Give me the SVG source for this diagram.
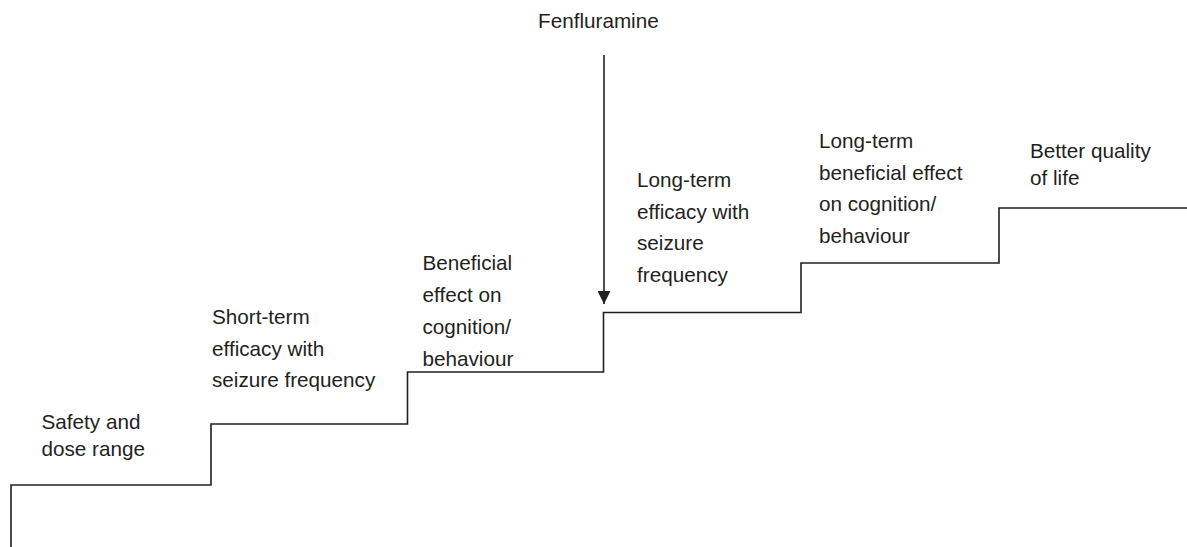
<svg xmlns="http://www.w3.org/2000/svg" width="1187" height="547" viewBox="0 0 1187 547">
<style>
.t{font-family:"Liberation Sans",Arial,sans-serif;font-size:20.7px;fill:#231f20}
.ln{fill:none;stroke:#231f20;stroke-width:1.6}
</style>
<defs>
<marker id="ah" markerWidth="13" markerHeight="13" viewBox="0 0 13 13" refX="13" refY="6.5" orient="auto" markerUnits="userSpaceOnUse">
<path d="M0,0 L13,6.5 L0,13 Z" fill="#231f20"/>
</marker>
</defs>
<rect width="1187" height="547" fill="#fff"/>
<g id="connectors">
<path id="staircase" class="ln" d="M11 547 V485 H211 V424 H407.5 V372 H603.5 V312.5 H801 V263 H999 V208 H1187"/>
<line id="arrow" class="ln" x1="604" y1="55" x2="604" y2="304" marker-end="url(#ah)"/>
</g>
<g id="fenfluramine"><text class="t" x="538" y="28">Fenfluramine</text></g>
<g id="step1"><text class="t" x="41.5" y="429">Safety and</text><text class="t" x="41.5" y="456">dose range</text></g>
<g id="step2"><text class="t" x="212" y="324">Short-term</text><text class="t" x="212" y="355.5">efficacy with</text><text class="t" x="212" y="387">seizure frequency</text></g>
<g id="step3"><text class="t" x="422.5" y="270">Beneficial</text><text class="t" x="422.5" y="302">effect on</text><text class="t" x="422.5" y="334">cognition/</text><text class="t" x="422.5" y="366">behaviour</text></g>
<g id="step4"><text class="t" x="637" y="187">Long-term</text><text class="t" x="637" y="218.5">efficacy with</text><text class="t" x="637" y="250">seizure</text><text class="t" x="637" y="282">frequency</text></g>
<g id="step5"><text class="t" x="819" y="148">Long-term</text><text class="t" x="819" y="179.5">beneficial effect</text><text class="t" x="819" y="211">on cognition/</text><text class="t" x="819" y="242.5">behaviour</text></g>
<g id="step6"><text class="t" x="1030" y="158">Better quality</text><text class="t" x="1030" y="185">of life</text></g>
</svg>
